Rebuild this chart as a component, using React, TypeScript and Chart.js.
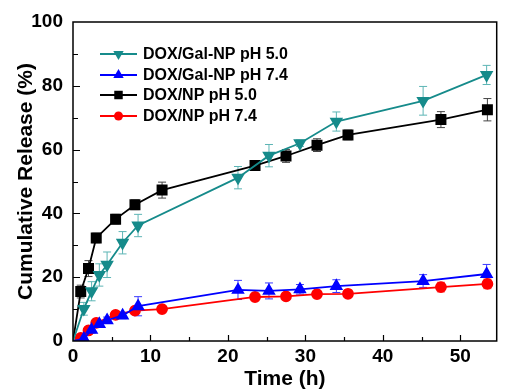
import React, { useEffect, useRef } from 'react';
import { Chart, registerables } from 'chart.js';

Chart.register(...registerables);

// Time points (h)
const timeNP = [0, 1, 2, 3, 5.5, 8, 11.5, 23.5, 27.5, 31.5, 35.5, 47.5, 53.5];
const timeGal = [0, 1.4, 2.4, 3.4, 4.4, 6.4, 8.4, 21.3, 25.3, 29.3, 34, 45.2, 53.4];

// Cumulative release (%)
const galPH50 = [0, 10.1, 15.6, 20.7, 23.9, 30.8, 36.2, 51.2, 58.1, 62.0, 68.8, 75.3, 83.4];
const galPH50Err = [0, 2, 3, 3.5, 4, 3.5, 3.5, 3.5, 3.5, 1, 3, 4.5, 3];
const galPH74 = [0, 0.7, 3.5, 5.3, 6.5, 8.0, 10.9, 16.0, 15.7, 16.2, 17.2, 18.8, 21.0];
const galPH74Err = [0, 0.5, 1, 1, 1, 1, 3, 3, 2.5, 1.5, 2, 2, 3];
const npPH50 = [0, 15.5, 22.7, 32.3, 38.2, 42.7, 47.3, 55.0, 58.0, 61.4, 64.6, 69.4, 72.5];
const npPH50Err = [0, 2, 2.5, 1.5, 1.5, 1.5, 2.5, 1.5, 2, 2, 1.5, 2.5, 3.5];
const npPH74 = [0, 1.0, 3.3, 5.7, 8.2, 9.5, 10.0, 13.8, 14.0, 14.7, 14.8, 16.9, 17.9];
const npPH74Err = [0, 0.5, 0.5, 0.5, 0.5, 1, 0.5, 0.5, 0.5, 0.5, 0.5, 1.5, 1.5];

const seriesLabels = ['DOX/Gal-NP pH 5.0', 'DOX/Gal-NP pH 7.4', 'DOX/NP pH 5.0', 'DOX/NP pH 7.4'];

const xTitle = 'Time (h)';
const yTitle = 'Cumulative Release (%)';
const X_MIN = 0, X_MAX = 54.7, Y_MIN = 0, Y_MAX = 100;

const TEAL = '#168b8b';
const BLUE = '#0000ff';
const BLACK = '#000000';
const RED = '#ff0000';

const toPts = (xs: number[], ys: number[]) => xs.map((x, i) => ({ x, y: ys[i] }));

function drawMarker(ctx: CanvasRenderingContext2D, style: string, x: number, y: number, r: number, color: string, rot = 0) {
  ctx.save();
  ctx.fillStyle = color;
  ctx.beginPath();
  if (style === 'rect') {
    const s = r * Math.SQRT1_2;
    ctx.rect(x - s, y - s, 2 * s, 2 * s);
  } else if (style === 'circle') {
    ctx.arc(x, y, r, 0, Math.PI * 2);
  } else {
    const dir = rot === 180 ? -1 : 1;
    const h = r * 1.5;
    const w = r * Math.cos(Math.PI / 6) * 1.0;
    ctx.moveTo(x, y - dir * r);
    ctx.lineTo(x - w * 1.0 - 0.0, y + dir * (h - r));
    ctx.lineTo(x + w, y + dir * (h - r));
    ctx.closePath();
  }
  ctx.fill();
  ctx.restore();
}

const errorBarPlugin = {
  id: 'errorBars',
  beforeDatasetsDraw(chart: any) {
    const ctx = chart.ctx;
    const xs = chart.scales.x, ys = chart.scales.y;
    chart.data.datasets.forEach((ds: any) => {
      const errs = ds.errors;
      if (!errs) return;
      ctx.save();
      ctx.strokeStyle = ds.errorColor;
      ctx.lineWidth = 1;
      ds.data.forEach((p: any, j: number) => {
        const e = errs[j];
        if (!e) return;
        const x = xs.getPixelForValue(p.x);
        const y1 = ys.getPixelForValue(p.y + e);
        const y2 = ys.getPixelForValue(p.y - e);
        ctx.beginPath();
        ctx.moveTo(x, y1); ctx.lineTo(x, y2);
        ctx.moveTo(x - 4, y1); ctx.lineTo(x + 4, y1);
        ctx.moveTo(x - 4, y2); ctx.lineTo(x + 4, y2);
        ctx.stroke();
      });
      ctx.restore();
    });
  },
};

const framePlugin = {
  id: 'frame',
  afterDatasetsDraw(chart: any) {
    const ctx = chart.ctx;
    const { left, right, top, bottom } = chart.chartArea;
    const xs = chart.scales.x, ys = chart.scales.y;
    ctx.save();
    ctx.strokeStyle = '#000';
    ctx.lineWidth = 1.5;
    ctx.strokeRect(left, top, right - left, bottom - top);
    ctx.lineWidth = 1.2;
    ctx.beginPath();
    for (let v = 5; v < X_MAX; v += 5) {
      const x = Math.round(xs.getPixelForValue(v)) + 0.5;
      const len = v % 10 === 0 ? 6 : 4;
      ctx.moveTo(x, bottom); ctx.lineTo(x, bottom - len);
    }
    for (let v = 10; v < Y_MAX; v += 10) {
      const y = Math.round(ys.getPixelForValue(v)) + 0.5;
      const len = v % 20 === 0 ? 7 : 5;
      ctx.moveTo(left, y); ctx.lineTo(left + len, y);
    }
    ctx.stroke();
    ctx.restore();
  },
};

const legendPlugin = {
  id: 'insideLegend',
  afterDraw(chart: any) {
    const ctx = chart.ctx;
    const rows = [54, 75, 95, 116];
    ctx.save();
    ctx.font = 'bold 16px "Liberation Sans", Arial, sans-serif';
    ctx.textBaseline = 'middle';
    ctx.textAlign = 'left';
    chart.data.datasets.forEach((ds: any, i: number) => {
      const y = rows[i];
      ctx.strokeStyle = ds.borderColor;
      ctx.lineWidth = 1.8;
      ctx.beginPath();
      ctx.moveTo(100, y); ctx.lineTo(137, y);
      ctx.stroke();
      drawMarker(ctx, ds.pointStyle, 118.5, y, ds.legendRadius, ds.borderColor, ds.rotation || 0);
      ctx.fillStyle = '#000';
      ctx.fillText(ds.label, 143, y + 1);
    });
    ctx.restore();
  },
};

export default function App() {
  const ref = useRef<HTMLCanvasElement | null>(null);

  useEffect(() => {
    if (!ref.current) return;
    const firstHidden = (r: number) => timeNP.map((_, i) => (i === 0 ? 0 : r));
    const chart = new Chart(ref.current, {
      type: 'scatter',
      data: {
        datasets: [
          {
            label: seriesLabels[0],
            data: toPts(timeGal, galPH50),
            errors: galPH50Err,
            errorColor: '#5db5b5',
            borderColor: TEAL,
            backgroundColor: TEAL,
            pointStyle: 'triangle',
            rotation: 180,
            pointRadius: firstHidden(6),
            legendRadius: 6,
            showLine: true,
            borderWidth: 1.8,
          },
          {
            label: seriesLabels[1],
            data: toPts(timeGal, galPH74),
            errors: galPH74Err,
            errorColor: '#3a3aff',
            borderColor: BLUE,
            backgroundColor: BLUE,
            pointStyle: 'triangle',
            pointRadius: firstHidden(6),
            legendRadius: 6,
            showLine: true,
            borderWidth: 1.8,
          },
          {
            label: seriesLabels[2],
            data: toPts(timeNP, npPH50),
            errors: npPH50Err,
            errorColor: '#444444',
            borderColor: BLACK,
            backgroundColor: BLACK,
            pointStyle: 'rect',
            pointRadius: firstHidden(6.5),
            legendRadius: 6,
            showLine: true,
            borderWidth: 1.8,
          },
          {
            label: seriesLabels[3],
            data: toPts(timeNP, npPH74),
            errors: npPH74Err,
            errorColor: '#ff4040',
            borderColor: RED,
            backgroundColor: RED,
            pointStyle: 'circle',
            pointRadius: firstHidden(5),
            legendRadius: 4.5,
            showLine: true,
            borderWidth: 1.8,
          },
        ] as any,
      },
      options: {
        responsive: false,
        animation: false,
        devicePixelRatio: 1,
        layout: { padding: { top: 22, right: 1, left: 0, bottom: 0 } },
        plugins: { legend: { display: false }, tooltip: { enabled: false } },
        scales: {
          x: {
            type: 'linear',
            min: X_MIN,
            max: X_MAX,
            grid: { display: false, drawTicks: false },
            border: { display: false },
            ticks: {
              stepSize: 10,
              includeBounds: false,
              padding: 4,
              color: '#000',
              font: { family: '"Liberation Sans", Arial, sans-serif', size: 19, weight: 'bold' },
            },
            title: {
              display: true,
              text: xTitle,
              color: '#000',
              padding: { top: 0, bottom: 0 },
              font: { family: '"Liberation Sans", Arial, sans-serif', size: 21, weight: 'bold' },
            },
            afterFit: (s: any) => { s.height = 51; },
          },
          y: {
            type: 'linear',
            min: Y_MIN,
            max: Y_MAX,
            grid: { display: false, drawTicks: false },
            border: { display: false },
            ticks: {
              stepSize: 20,
              padding: 10,
              color: '#000',
              font: { family: '"Liberation Sans", Arial, sans-serif', size: 19, weight: 'bold' },
            },
            title: {
              display: true,
              text: yTitle,
              color: '#000',
              padding: { top: 14, bottom: 0 },
              font: { family: '"Liberation Sans", Arial, sans-serif', size: 21, weight: 'bold' },
            },
            afterFit: (s: any) => { s.width = 73; },
          },
        },
      } as any,
      plugins: [errorBarPlugin, framePlugin, legendPlugin],
    });
    return () => chart.destroy();
  }, []);

  return (
    <div style={{ position: 'fixed', left: 0, top: 0, width: 505, height: 392, background: '#fff' }}>
      <canvas ref={ref} width={505} height={392} style={{ width: 505, height: 392, display: 'block' }} />
    </div>
  );
}
